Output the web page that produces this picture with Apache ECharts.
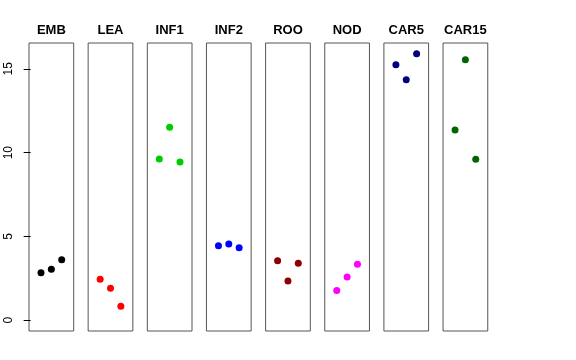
<!DOCTYPE html>
<html>
<head>
<meta charset="utf-8">
<script src="https://cdn.jsdelivr.net/npm/echarts@6/dist/echarts.min.js"></script>
<style>html,body{margin:0;padding:0;background:#fff}#c{width:576px;height:360px}</style>
</head>
<body>
<div id="c"></div>
<script>
var panels = ['EMB','LEA','INF1','INF2','ROO','NOD','CAR5','CAR15'];
var colors = ['#000000','#FF0000','#00CD00','#0000FF','#8B0000','#FF00FF','#000080','#006400'];
var xPos = [1, 2, 3];
var EMB   = [2.84, 3.04, 3.61];
var LEA   = [2.44, 1.91, 0.83];
var INF1  = [9.62, 11.51, 9.44];
var INF2  = [4.45, 4.55, 4.33];
var ROO   = [3.55, 2.34, 3.40];
var NOD   = [1.77, 2.58, 3.34];
var CAR5  = [15.24, 14.35, 15.90];
var CAR15 = [11.35, 15.54, 9.60];
var yTicks = [0, 5, 10, 15];
var values = [EMB, LEA, INF1, INF2, ROO, NOD, CAR5, CAR15];

var chart = echarts.init(document.getElementById('c'), null, {renderer: 'canvas'});
var grids = [], xAxes = [], yAxes = [], series = [], titles = [];
var left0 = 29, step = 59.15, w = 44.7;
panels.forEach(function (name, i) {
  var l = left0 + i * step;
  grids.push({left: l, top: 43, width: w, height: 288, show: true, borderColor: '#555', borderWidth: 1, backgroundColor: 'transparent'});
  xAxes.push({gridIndex: i, type: 'value', min: -0.16, max: 4.16, show: false});
  yAxes.push({
    gridIndex: i, type: 'value', min: -0.64, max: 16.54, show: i === 0,
    axisLine: {show: false}, splitLine: {show: false},
    axisTick: {show: true, length: 7, lineStyle: {color: '#000'}, customValues: yTicks},
    axisLabel: {show: true, rotate: 90, margin: 14, color: '#000', fontSize: 12, fontFamily: 'Liberation Sans, Arial, sans-serif', customValues: yTicks}
  });
  titles.push({text: name, left: l + w / 2, top: 24, textAlign: 'center', padding: 0,
    textStyle: {fontSize: 13, fontWeight: 'bold', color: '#000', fontFamily: 'Liberation Sans, Arial, sans-serif'}});
  series.push({
    type: 'scatter', xAxisIndex: i, yAxisIndex: i, symbolSize: 7,
    itemStyle: {color: colors[i], opacity: 1},
    data: values[i].map(function (v, k) { return [xPos[k], v]; }),
    animation: false
  });
});
chart.setOption({animation: false, title: titles, grid: grids, xAxis: xAxes, yAxis: yAxes, series: series});
</script>
</body>
</html>
